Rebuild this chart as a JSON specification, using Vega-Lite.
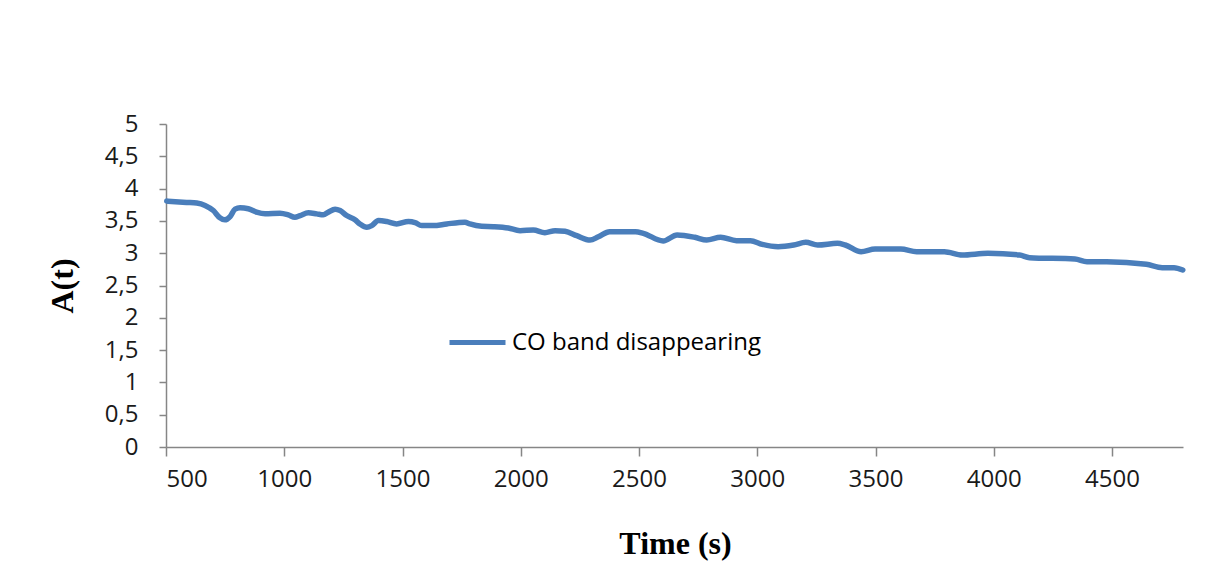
{
  "$schema": "https://vega.github.io/schema/vega-lite/v6.json",
  "autosize": {"type": "none"},
  "padding": {"left": 166, "top": 124, "right": 48, "bottom": 131},
  "width": 1017,
  "height": 323,
  "background": "white",
  "config": {
    "view": {"stroke": null},
    "axis": {"grid": false, "domainColor": "#868686", "tickColor": "#868686", "domainWidth": 1.5, "tickWidth": 1.5, "labelFont": "Open Sans", "labelFontSize": 24, "labelColor": "#1a1a1a", "titleFont": "Liberation Serif", "titleFontWeight": "bold", "titleFontSize": 32, "titleColor": "#000000"}
  },
  "data": {
    "values": [
      {"t": 503, "A": 3.807, "series": "CO band disappearing"},
      {"t": 587, "A": 3.786, "series": "CO band disappearing"},
      {"t": 630, "A": 3.776, "series": "CO band disappearing"},
      {"t": 665, "A": 3.74, "series": "CO band disappearing"},
      {"t": 700, "A": 3.66, "series": "CO band disappearing"},
      {"t": 728, "A": 3.547, "series": "CO band disappearing"},
      {"t": 749, "A": 3.516, "series": "CO band disappearing"},
      {"t": 771, "A": 3.568, "series": "CO band disappearing"},
      {"t": 792, "A": 3.682, "series": "CO band disappearing"},
      {"t": 813, "A": 3.703, "series": "CO band disappearing"},
      {"t": 848, "A": 3.688, "series": "CO band disappearing"},
      {"t": 883, "A": 3.635, "series": "CO band disappearing"},
      {"t": 919, "A": 3.609, "series": "CO band disappearing"},
      {"t": 982, "A": 3.62, "series": "CO band disappearing"},
      {"t": 1017, "A": 3.594, "series": "CO band disappearing"},
      {"t": 1045, "A": 3.557, "series": "CO band disappearing"},
      {"t": 1067, "A": 3.583, "series": "CO band disappearing"},
      {"t": 1102, "A": 3.625, "series": "CO band disappearing"},
      {"t": 1137, "A": 3.609, "series": "CO band disappearing"},
      {"t": 1165, "A": 3.594, "series": "CO band disappearing"},
      {"t": 1186, "A": 3.635, "series": "CO band disappearing"},
      {"t": 1215, "A": 3.682, "series": "CO band disappearing"},
      {"t": 1236, "A": 3.661, "series": "CO band disappearing"},
      {"t": 1264, "A": 3.583, "series": "CO band disappearing"},
      {"t": 1299, "A": 3.516, "series": "CO band disappearing"},
      {"t": 1320, "A": 3.453, "series": "CO band disappearing"},
      {"t": 1349, "A": 3.401, "series": "CO band disappearing"},
      {"t": 1370, "A": 3.427, "series": "CO band disappearing"},
      {"t": 1398, "A": 3.505, "series": "CO band disappearing"},
      {"t": 1433, "A": 3.49, "series": "CO band disappearing"},
      {"t": 1475, "A": 3.453, "series": "CO band disappearing"},
      {"t": 1525, "A": 3.49, "series": "CO band disappearing"},
      {"t": 1553, "A": 3.474, "series": "CO band disappearing"},
      {"t": 1581, "A": 3.427, "series": "CO band disappearing"},
      {"t": 1630, "A": 3.427, "series": "CO band disappearing"},
      {"t": 1687, "A": 3.453, "series": "CO band disappearing"},
      {"t": 1764, "A": 3.479, "series": "CO band disappearing"},
      {"t": 1785, "A": 3.453, "series": "CO band disappearing"},
      {"t": 1835, "A": 3.417, "series": "CO band disappearing"},
      {"t": 1884, "A": 3.411, "series": "CO band disappearing"},
      {"t": 1947, "A": 3.39, "series": "CO band disappearing"},
      {"t": 1997, "A": 3.349, "series": "CO band disappearing"},
      {"t": 2053, "A": 3.359, "series": "CO band disappearing"},
      {"t": 2102, "A": 3.318, "series": "CO band disappearing"},
      {"t": 2145, "A": 3.349, "series": "CO band disappearing"},
      {"t": 2187, "A": 3.339, "series": "CO band disappearing"},
      {"t": 2237, "A": 3.271, "series": "CO band disappearing"},
      {"t": 2293, "A": 3.203, "series": "CO band disappearing"},
      {"t": 2328, "A": 3.255, "series": "CO band disappearing"},
      {"t": 2376, "A": 3.333, "series": "CO band disappearing"},
      {"t": 2485, "A": 3.333, "series": "CO band disappearing"},
      {"t": 2518, "A": 3.308, "series": "CO band disappearing"},
      {"t": 2602, "A": 3.189, "series": "CO band disappearing"},
      {"t": 2661, "A": 3.282, "series": "CO band disappearing"},
      {"t": 2736, "A": 3.246, "series": "CO band disappearing"},
      {"t": 2786, "A": 3.204, "series": "CO band disappearing"},
      {"t": 2845, "A": 3.246, "series": "CO band disappearing"},
      {"t": 2912, "A": 3.194, "series": "CO band disappearing"},
      {"t": 2971, "A": 3.194, "series": "CO band disappearing"},
      {"t": 3021, "A": 3.137, "series": "CO band disappearing"},
      {"t": 3088, "A": 3.101, "series": "CO band disappearing"},
      {"t": 3154, "A": 3.127, "series": "CO band disappearing"},
      {"t": 3205, "A": 3.168, "series": "CO band disappearing"},
      {"t": 3255, "A": 3.127, "series": "CO band disappearing"},
      {"t": 3339, "A": 3.153, "series": "CO band disappearing"},
      {"t": 3372, "A": 3.127, "series": "CO band disappearing"},
      {"t": 3439, "A": 3.023, "series": "CO band disappearing"},
      {"t": 3498, "A": 3.065, "series": "CO band disappearing"},
      {"t": 3607, "A": 3.065, "series": "CO band disappearing"},
      {"t": 3674, "A": 3.023, "series": "CO band disappearing"},
      {"t": 3791, "A": 3.023, "series": "CO band disappearing"},
      {"t": 3866, "A": 2.972, "series": "CO band disappearing"},
      {"t": 3975, "A": 2.998, "series": "CO band disappearing"},
      {"t": 4109, "A": 2.972, "series": "CO band disappearing"},
      {"t": 4151, "A": 2.93, "series": "CO band disappearing"},
      {"t": 4343, "A": 2.91, "series": "CO band disappearing"},
      {"t": 4394, "A": 2.869, "series": "CO band disappearing"},
      {"t": 4477, "A": 2.869, "series": "CO band disappearing"},
      {"t": 4645, "A": 2.828, "series": "CO band disappearing"},
      {"t": 4712, "A": 2.776, "series": "CO band disappearing"},
      {"t": 4762, "A": 2.776, "series": "CO band disappearing"},
      {"t": 4799, "A": 2.74, "series": "CO band disappearing"}
    ]
  },
  "mark": {"type": "line", "strokeWidth": 5.5, "interpolate": "monotone", "strokeCap": "round", "strokeJoin": "round"},
  "encoding": {
    "x": {
      "field": "t", "type": "quantitative",
      "scale": {"domain": [500, 4800], "nice": false, "zero": false},
      "axis": {"title": "Time (s)", "values": [500, 1000, 1500, 2000, 2500, 3000, 3500, 4000, 4500], "format": "d", "tickSize": 9, "labelPadding": 11, "titleX": 509, "titleY": 106, "titleBaseline": "alphabetic", "titleAlign": "center"}
    },
    "y": {
      "field": "A", "type": "quantitative",
      "scale": {"domain": [0, 5], "nice": false},
      "axis": {"title": "A(t)", "values": [0, 0.5, 1, 1.5, 2, 2.5, 3, 3.5, 4, 4.5, 5], "format": "~g", "labelExpr": "replace(datum.label, '.', ',')", "tickSize": 7, "labelPadding": 21, "titleX": -104, "titleY": 161.5, "titleAlign": "center", "titleBaseline": "middle", "titleAngle": -90}
    },
    "color": {
      "field": "series", "type": "nominal",
      "scale": {"range": ["#4A7EBB"]},
      "legend": {"title": null, "orient": "none", "legendX": 281, "legendY": 188, "symbolType": "stroke", "symbolSize": 3136, "symbolStrokeWidth": 5, "labelFont": "Open Sans", "labelFontSize": 24, "labelColor": "#000000", "labelOffset": 4, "labelLimit": 0, "padding": 0}
    }
  }
}
